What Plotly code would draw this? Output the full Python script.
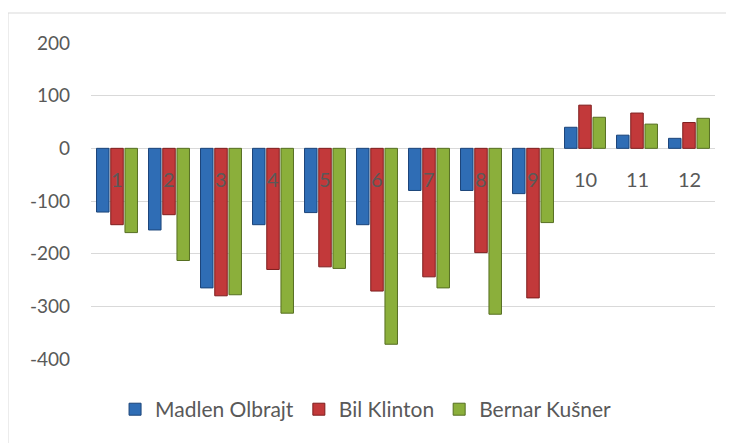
import plotly.graph_objects as go

categories = ["1", "2", "3", "4", "5", "6", "7", "8", "9", "10", "11", "12"]
series_names = ["Madlen Olbrajt", "Bil Klinton", "Bernar Kušner"]
madlen = [-121, -155, -265, -145, -122, -145, -80, -80, -86, 40, 25, 19]
bil = [-145, -126, -280, -230, -225, -271, -244, -198, -284, 82, 67, 49]
bernar = [-160, -213, -278, -313, -228, -372, -265, -315, -141, 59, 46, 57]
y_ticks = [-400, -300, -200, -100, 0, 100, 200]
y_tick_text = ["-400", "-300", "-200", "-100", "0", "100", "200"]

fills = ["#2F6DB5", "#C2393A", "#8BAF3B"]
edges = ["#1B4479", "#7E1E1E", "#566F22"]

# page body has an 8px default margin, so the figure is 8px smaller
W, H = 726, 435
L, R, T, B = 83, 19, 35, 84
FONT = "Lato"
GREY = "#595959"

fig = go.Figure()
for name, vals, fc, ec in zip(series_names, [madlen, bil, bernar], fills, edges):
    fig.add_trace(go.Bar(
        x=categories, y=vals, name=name,
        marker=dict(color=fc, line=dict(color=ec, width=1)),
    ))

annotations = []
for i, c in enumerate(categories):
    annotations.append(dict(
        x=i, y=0, xref="x", yref="y", text=c, showarrow=False,
        yanchor="middle", yshift=-31,
        font=dict(family=FONT, size=20, color=GREY),
    ))

pw = W - L - R
ph = H - T - B
x0 = (0 - L) / pw
x1 = (W + 5 - L) / pw
y1 = (H - B - 5) / ph
y0 = (H - B - (H + 5)) / ph

fig.update_layout(
    width=W, height=H,
    margin=dict(l=L, r=R, t=T, b=B),
    paper_bgcolor="white", plot_bgcolor="white",
    barmode="group", bargap=0.18, bargroupgap=0.12,
    font=dict(family=FONT, size=20, color=GREY),
    xaxis=dict(type="category", showticklabels=False, showgrid=False, zeroline=False,
               showline=False, ticks=""),
    yaxis=dict(range=[-400, 200], tickvals=y_ticks, ticktext=y_tick_text,
               showgrid=True, gridcolor="#D9D9D9", gridwidth=1.3,
               zeroline=True, zerolinecolor="#D9D9D9", zerolinewidth=1.3, showline=False,
               ticks="", ticklabelstandoff=20, tickfont=dict(family=FONT, size=19, color=GREY)),
    legend=dict(orientation="h", x=0.44, xanchor="center", y=-0.16, yanchor="middle",
                font=dict(family=FONT, size=21, color=GREY), traceorder="normal",
                itemwidth=30),
    showlegend=True,
    annotations=annotations,
    shapes=[dict(type="rect", xref="paper", yref="paper", x0=x0, x1=x1, y0=y0, y1=y1,
                 line=dict(color="#D9D9D9", width=1), fillcolor="rgba(0,0,0,0)", layer="below")],
)

fig.write_html("out.html")
